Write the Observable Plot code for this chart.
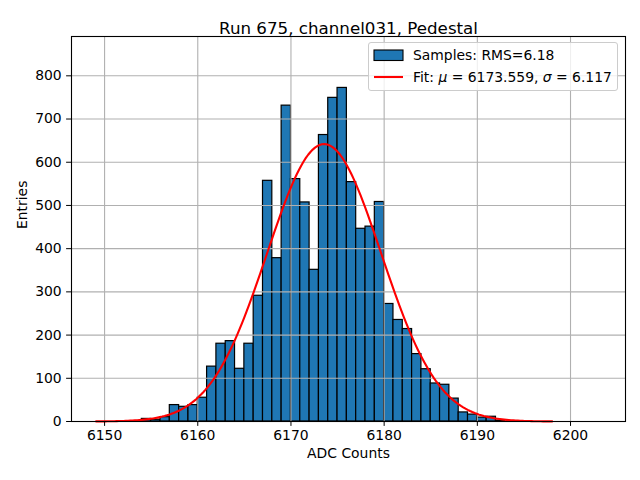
<!DOCTYPE html>
<html>
<head>
<meta charset="utf-8">
<script src="https://cdn.jsdelivr.net/npm/d3@7"></script>
<script src="https://cdn.jsdelivr.net/npm/@observablehq/plot@0.6"></script>
<style>
  html, body { margin: 0; padding: 0; background: white; }
  #wrap { position: relative; width: 640px; height: 480px; font-family: "DejaVu Sans", sans-serif; }
  #legend { position: absolute; left: 368px; top: 42px; width: 250px; height: 49px; box-sizing: border-box;
            border: 1px solid #cccccc; border-radius: 3px; background: rgba(255,255,255,0.8); }
  #legend svg { position: absolute; left: 0; top: 0; }
</style>
</head>
<body>
<div id="wrap"></div>
<script>
// Histogram bins (left edge, width 1 ADC count) and counts
const binEdges = [6153,6154,6155,6156,6157,6158,6159,6160,6161,6162,6163,6164,6165,6166,6167,6168,6169,6170,6171,6172,
                  6173,6174,6175,6176,6177,6178,6179,6180,6181,6182,6183,6184,6185,6186,6187,6188,6189,6190,6191,6192,
                  6193,6194,6195,6196,6197,6198,6199,6200,6201,6202];
const counts   = [0,6,4,10,38,34,38,55,127,180,186,122,180,291,557,378,731,561,507,351,
                  663,749,772,554,446,451,508,272,235,214,156,121,88,85,53,21,16,9,11,2,
                  0,0,0,0,0,0,0,0,0,0];
const binWidth = 1;

const fitMu = 6173.559;
const fitSigma = 6.117;
const fitAmp = 642;
const rmsLabel = "6.18";

const xTicks = [6150, 6160, 6170, 6180, 6190, 6200];
const yTicks = [0, 100, 200, 300, 400, 500, 600, 700, 800];

const titleText = "Run 675, channel031, Pedestal";
const xLabel = "ADC Counts";
const yLabel = "Entries";

const bars = binEdges.map((b, i) => ({x1: b, x2: b + binWidth, count: counts[i]}));
const nCurve = 200;
const curve = d3.range(nCurve + 1).map(i => {
  const x = fitMu - 4 * fitSigma + (8 * fitSigma) * i / nCurve;
  return {x, y: fitAmp * Math.exp(-0.5 * ((x - fitMu) / fitSigma) ** 2)};
});

const fs = 13.9;
const chart = Plot.plot({
  width: 640,
  height: 480,
  marginLeft: 71,
  marginRight: 15,
  marginTop: 36,
  marginBottom: 59,
  style: {fontFamily: "DejaVu Sans, sans-serif", background: "white", color: "black"},
  x: {domain: [6146.45, 6205.9], label: null},
  y: {domain: [0, 891], label: null},
  marks: [
    Plot.rectY(bars, {x1: "x1", x2: "x2", y: "count", fill: "#1f77b4", stroke: "black", strokeWidth: 1.2, inset: 0}),
    Plot.gridX(xTicks, {stroke: "#b0b0b0", strokeOpacity: 1, strokeWidth: 1.1}),
    Plot.gridY(yTicks, {stroke: "#b0b0b0", strokeOpacity: 1, strokeWidth: 1.1}),
    Plot.line(curve, {x: "x", y: "y", stroke: "red", strokeWidth: 2.1}),
    Plot.frame({stroke: "black", strokeWidth: 1.1}),
    Plot.axisX(xTicks, {tickSize: 4.9, tickPadding: 4, fontSize: fs, tickFormat: d => String(d), label: null, stroke: "black"}),
    Plot.axisY(yTicks, {tickSize: 4.9, tickPadding: 4.9, fontSize: fs, tickFormat: d => String(d), label: null, stroke: "black"}),
    Plot.text([titleText], {frameAnchor: "top", dy: -14, fontSize: 16.7, fill: "black"}),
    Plot.text([xLabel], {frameAnchor: "bottom", dy: 36, fontSize: fs, fill: "black"}),
    Plot.text([yLabel], {frameAnchor: "left", dx: -49, rotate: -90, fontSize: fs, fill: "black"})
  ]
});

const wrap = document.getElementById("wrap");
wrap.appendChild(chart);

const legend = document.createElement("div");
legend.id = "legend";
legend.innerHTML = `
<svg width="250" height="49" xmlns="http://www.w3.org/2000/svg" font-family="DejaVu Sans, sans-serif" font-size="${fs}">
  <rect x="5" y="7" width="29" height="10.5" fill="#1f77b4" stroke="black" stroke-width="1.1"/>
  <text x="44" y="16.5">Samples: RMS=${rmsLabel}</text>
  <line x1="5" x2="34" y1="34" y2="34" stroke="red" stroke-width="2.1"/>
  <text x="44" y="39">Fit: <tspan font-style="italic">μ</tspan> = ${fitMu.toFixed(3)}, <tspan font-style="italic">σ</tspan> = ${fitSigma.toFixed(3)}</text>
</svg>`;
wrap.appendChild(legend);
</script>
</body>
</html>
